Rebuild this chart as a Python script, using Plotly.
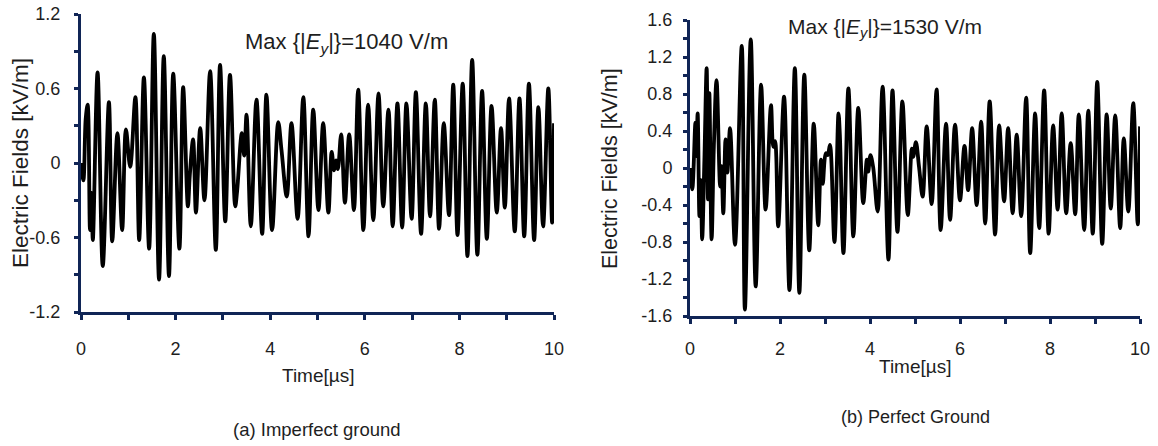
import plotly.graph_objects as go

# ---------------- data ----------------
t_a = [0.00, 0.05, 0.10, 0.14, 0.19, 0.22, 0.25, 0.35, 0.46, 0.59, 0.66, 0.77, 0.87, 0.95, 1.04,
       1.15, 1.23, 1.33, 1.44, 1.54, 1.65, 1.75, 1.86, 1.95, 2.08, 2.16, 2.26, 2.30, 2.37, 2.43,
       2.52, 2.61, 2.73, 2.85, 2.94, 3.05, 3.15, 3.26, 3.30, 3.40, 3.45, 3.50, 3.59, 3.71, 3.83,
       3.92, 4.04, 4.17, 4.24, 4.35, 4.45, 4.58, 4.70, 4.81, 4.91, 5.02, 5.12, 5.23, 5.30, 5.35,
       5.39, 5.43, 5.50, 5.58, 5.67, 5.77, 5.86, 5.97, 6.07, 6.18, 6.29, 6.39, 6.50, 6.59, 6.69,
       6.79, 6.88, 6.99, 7.08, 7.19, 7.29, 7.38, 7.48, 7.57, 7.67, 7.78, 7.87, 7.96, 8.07, 8.17,
       8.27, 8.38, 8.48, 8.58, 8.68, 8.79, 8.88, 8.96, 9.05, 9.17, 9.27, 9.37, 9.47, 9.58, 9.67,
       9.77, 9.88, 9.96, 10.00]
e_a = [0.00, -0.14, 0.36, 0.47, -0.54, -0.24, -0.62, 0.73, -0.83, 0.49, -0.63, 0.24, -0.54, 0.27, -0.03,
       0.53, -0.62, 0.69, -0.69, 1.04, -0.94, 0.86, -0.91, 0.72, -0.69, 0.61, -0.35, -0.10, 0.19, -0.40,
       0.28, -0.30, 0.74, -0.70, 0.79, -0.47, 0.71, -0.35, -0.23, 0.24, 0.06, 0.39, -0.51, 0.51, -0.57,
       0.55, -0.54, 0.33, 0.10, -0.27, 0.32, -0.45, 0.53, -0.59, 0.43, -0.38, 0.32, -0.40, 0.09, -0.06,
       0.02, -0.05, 0.23, -0.32, 0.23, -0.38, 0.59, -0.54, 0.47, -0.46, 0.56, -0.35, 0.43, -0.51, 0.48,
       -0.52, 0.48, -0.45, 0.57, -0.57, 0.48, -0.43, 0.51, -0.53, 0.32, -0.42, 0.63, -0.58, 0.64, -0.75,
       0.83, -0.74, 0.58, -0.61, 0.46, -0.40, 0.28, -0.36, 0.52, -0.55, 0.52, -0.59, 0.64, -0.62, 0.45,
       -0.51, 0.60, -0.48, 0.32]

t_b = [0.00, 0.05, 0.12, 0.14, 0.17, 0.21, 0.24, 0.27, 0.32, 0.37, 0.40, 0.43, 0.48, 0.53, 0.59,
       0.67, 0.70, 0.74, 0.79, 0.83, 0.89, 1.00, 1.15, 1.22, 1.35, 1.46, 1.58, 1.68, 1.80, 1.85,
       1.89, 1.96, 2.09, 2.21, 2.33, 2.43, 2.54, 2.65, 2.75, 2.85, 2.91, 2.95, 3.02, 3.06, 3.11,
       3.21, 3.30, 3.33, 3.41, 3.52, 3.63, 3.74, 3.85, 3.93, 3.96, 4.01, 4.07, 4.17, 4.28, 4.41,
       4.50, 4.61, 4.72, 4.84, 4.93, 4.96, 5.02, 5.09, 5.17, 5.26, 5.37, 5.48, 5.57, 5.69, 5.78,
       5.89, 6.00, 6.10, 6.18, 6.27, 6.37, 6.47, 6.56, 6.66, 6.78, 6.87, 6.98, 7.07, 7.17, 7.26,
       7.36, 7.47, 7.56, 7.67, 7.76, 7.87, 7.97, 8.07, 8.17, 8.26, 8.36, 8.46, 8.56, 8.64, 8.76,
       8.85, 8.95, 9.05, 9.16, 9.26, 9.35, 9.45, 9.56, 9.64, 9.74, 9.85, 9.95, 10.00]
e_b = [0.00, -0.23, 0.49, 0.13, 0.59, -0.52, -0.13, -0.77, 0.09, 1.08, -0.34, 0.81, -0.77, 0.23, 0.95,
       -0.20, 0.02, -0.49, 0.31, -0.05, 0.43, -0.83, 1.32, -1.53, 1.39, -1.28, 0.90, -0.45, 0.68, 0.23,
       0.29, -0.63, 0.77, -1.32, 1.08, -1.35, 1.01, -0.89, 0.48, -0.62, 0.09, -0.17, 0.16, 0.14, 0.25,
       -0.80, 0.59, 0.36, -0.92, 0.86, -0.74, 0.65, -0.38, 0.09, -0.04, 0.14, 0.01, -0.47, 0.88, -0.99,
       0.84, -0.69, 0.72, -0.51, 0.21, 0.12, 0.28, 0.01, -0.31, 0.45, -0.39, 0.85, -0.67, 0.48, -0.56,
       0.47, -0.35, 0.24, -0.24, 0.43, -0.40, 0.50, -0.60, 0.72, -0.72, 0.46, -0.36, 0.43, -0.49, 0.36,
       -0.52, 0.76, -0.92, 0.59, -0.65, 0.84, -0.71, 0.46, -0.45, 0.59, -0.49, 0.27, -0.50, 0.58, -0.67,
       0.62, -0.71, 0.93, -0.82, 0.58, -0.44, 0.57, -0.65, 0.32, -0.47, 0.70, -0.61, 0.45]

x_major = [0, 2, 4, 6, 8, 10]
x_minor = [1, 3, 5, 7, 9]
x_ticktext = ["0", "2", "4", "6", "8", "10"]

ya_major = [-1.2, -0.6, 0, 0.6, 1.2]
ya_minor = [-0.9, -0.3, 0.3, 0.9]
ya_ticktext = ["-1.2", "-0.6", "0", "0.6", "1.2"]

yb_major = [-1.6, -1.2, -0.8, -0.4, 0, 0.4, 0.8, 1.2, 1.6]
yb_minor = [-1.4, -1.0, -0.6, -0.2, 0.2, 0.6, 1.0, 1.4]
yb_ticktext = ["-1.6", "-1.2", "-0.8", "-0.4", "0", "0.4", "0.8", "1.2", "1.6"]

title_a = "Max {|<i>E</i><sub><i>y</i></sub>|}=1040 V/m"
title_b = "Max {|<i>E</i><sub><i>y</i></sub>|}=1530 V/m"
caption_a = "(a) Imperfect ground"
caption_b = "(b) Perfect Ground"
x_title = "Time[µs]"
y_title = "Electric Fields [kV/m]"

# ---------------- figure ----------------
W, H = 1158, 446
AX = "#102556"
TXT = "#1e1e1e"
FONT = "Liberation Sans, Arial, sans-serif"

def px(x):
    return x / W

def py(y):
    return 1 - y / H

fig = go.Figure()
fig.add_trace(go.Scatter(x=t_a, y=e_a, mode="lines", xaxis="x", yaxis="y",
                         line=dict(color="black", width=3.8, shape="spline", smoothing=1.0),
                         showlegend=False, hoverinfo="skip"))
fig.add_trace(go.Scatter(x=t_b, y=e_b, mode="lines", xaxis="x2", yaxis="y2",
                         line=dict(color="black", width=3.8, shape="spline", smoothing=1.0),
                         showlegend=False, hoverinfo="skip"))

def xaxis(domain, anchor, standoff):
    return dict(domain=domain, anchor=anchor, range=[0, 10], showgrid=False, zeroline=False,
                showline=True, linecolor=AX, linewidth=3,
                tickmode="array", tickvals=x_major, ticktext=x_ticktext,
                ticks="outside", ticklen=5, tickwidth=3, tickcolor=AX,
                minor=dict(tickvals=x_minor, ticks="outside", ticklen=5, tickwidth=3, tickcolor=AX),
                ticklabelstandoff=standoff,
                tickfont=dict(family=FONT, size=18, color=TXT))

def yaxis(domain, anchor, rng, major, text, minor, standoff):
    return dict(domain=domain, anchor=anchor, range=rng, showgrid=False, zeroline=False,
                showline=True, linecolor=AX, linewidth=3,
                tickmode="array", tickvals=major, ticktext=text,
                ticks="outside", ticklen=4, tickwidth=3, tickcolor=AX,
                minor=dict(tickvals=minor, ticks="outside", ticklen=4, tickwidth=3, tickcolor=AX),
                ticklabelstandoff=standoff,
                tickfont=dict(family=FONT, size=18, color=TXT))

fig.update_layout(
    width=W, height=H, autosize=False,
    margin=dict(l=0, r=0, t=0, b=0, autoexpand=False),
    paper_bgcolor="white", plot_bgcolor="white",
    xaxis=xaxis([px(81), px(554)], "y", 13),
    yaxis=yaxis([py(312), py(14)], "x", [-1.2, 1.2], ya_major, ya_ticktext, ya_minor, 10),
    xaxis2=xaxis([px(690), px(1140)], "y2", 9),
    yaxis2=yaxis([py(316), py(20)], "x2", [-1.6, 1.6], yb_major, yb_ticktext, yb_minor, 7),
)

ann = [
    dict(text=title_a, x=px(243), y=py(43), xanchor="left", yanchor="middle",
         font=dict(family=FONT, size=22, color=TXT)),
    dict(text=title_b, x=px(786), y=py(28), xanchor="left", yanchor="middle",
         font=dict(family=FONT, size=21, color=TXT)),
    dict(text=x_title, x=px(318), y=py(375), xanchor="center", yanchor="middle",
         font=dict(family=FONT, size=19, color=TXT)),
    dict(text=x_title, x=px(915), y=py(366), xanchor="center", yanchor="middle",
         font=dict(family=FONT, size=19, color=TXT)),
    dict(text=caption_a, x=px(317), y=py(429), xanchor="center", yanchor="middle",
         font=dict(family=FONT, size=18.5, color=TXT)),
    dict(text=caption_b, x=px(915), y=py(417), xanchor="center", yanchor="middle",
         font=dict(family=FONT, size=18, color=TXT)),
    dict(text=y_title, x=px(20), y=py(163), xanchor="center", yanchor="middle", textangle=-90,
         font=dict(family=FONT, size=22.5, color=TXT)),
    dict(text=y_title, x=px(610), y=py(169), xanchor="center", yanchor="middle", textangle=-90,
         font=dict(family=FONT, size=21.5, color=TXT)),
]
for a in ann:
    a.update(xref="paper", yref="paper", showarrow=False)
fig.update_layout(annotations=ann)

fig.write_html("out.html", config={"displayModeBar": False},
               post_script="document.documentElement.style.overflow='hidden';"
                           "document.body.style.margin='0px';document.body.style.overflow='hidden';")
